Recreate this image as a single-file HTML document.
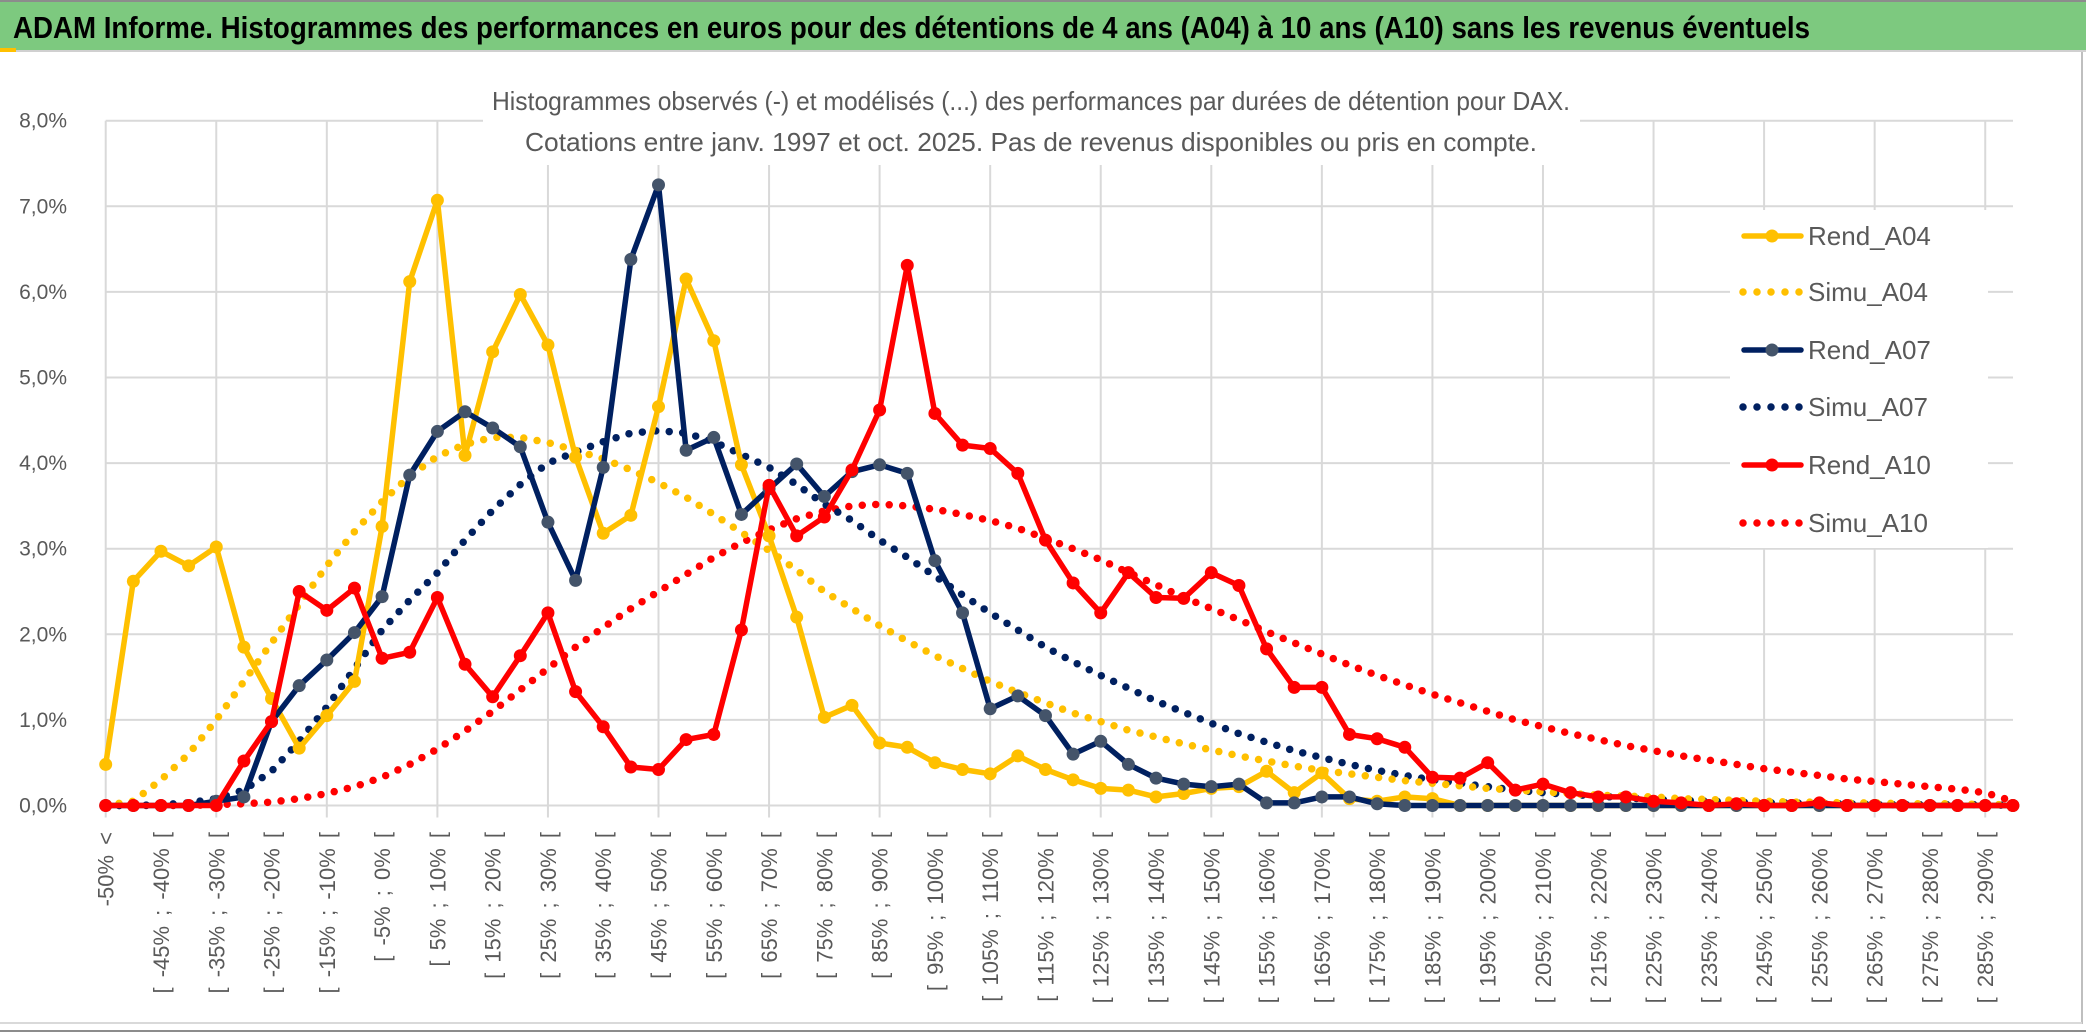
<!DOCTYPE html>
<html><head><meta charset="utf-8">
<style>
html,body{margin:0;padding:0;background:#fff;}
svg{display:block;font-family:"Liberation Sans",sans-serif;}
</style></head>
<body>
<svg id="chart" width="2086" height="1033" viewBox="0 0 2086 1033" xmlns="http://www.w3.org/2000/svg">
  <rect x="0" y="0" width="2086" height="1033" fill="#fff"/>
  <rect x="0" y="2" width="2086" height="48" fill="#7dc97f"/>
  <line x1="0" y1="1" x2="2086" y2="1" stroke="#8c8c8c" stroke-width="2"/>
  <line x1="0" y1="51" x2="2086" y2="51" stroke="#d0d0d0" stroke-width="2"/>
  <rect x="0" y="48" width="16" height="4" fill="#ffc000"/>
  <text x="13" y="38" font-size="31" font-weight="bold" fill="#000" textLength="1797" lengthAdjust="spacingAndGlyphs">ADAM Informe. Histogrammes des performances en euros pour des détentions de 4 ans (A04) à 10 ans (A10) sans les revenus éventuels</text>
  <line x1="2082" y1="52" x2="2082" y2="1024" stroke="#bfbfbf" stroke-width="2"/>
  <line x1="0" y1="1023" x2="2082" y2="1023" stroke="#d9d9d9" stroke-width="2"/>
  <line x1="0" y1="1031" x2="2086" y2="1031" stroke="#8c8c8c" stroke-width="2"/>
  <g id="grid"></g>
  <g id="yaxis"></g>
  <g id="xaxis"></g>
  <rect x="483" y="70" width="1097" height="95" fill="#fff"/>
  <text x="1031" y="110" font-size="26" fill="#595959" text-anchor="middle" textLength="1078" lengthAdjust="spacingAndGlyphs">Histogrammes observés (-) et modélisés (...) des performances par durées de détention pour DAX.</text>
  <text x="1031" y="151" font-size="26" fill="#595959" text-anchor="middle" textLength="1012" lengthAdjust="spacingAndGlyphs">Cotations entre janv. 1997 et oct. 2025. Pas de revenus disponibles ou pris en compte.</text>
  <g id="series"></g>
  <rect x="1730" y="210" width="258" height="338" fill="#fff"/>
  <g id="legend"></g>
</svg>
<script>
const xTickLabels = ["-50% <","[ -45% ; -40% [","[ -35% ; -30% [","[ -25% ; -20% [","[ -15% ; -10% [","[ -5% ; 0% [","[ 5% ; 10% [","[ 15% ; 20% [","[ 25% ; 30% [","[ 35% ; 40% [","[ 45% ; 50% [","[ 55% ; 60% [","[ 65% ; 70% [","[ 75% ; 80% [","[ 85% ; 90% [","[ 95% ; 100% [","[ 105% ; 110% [","[ 115% ; 120% [","[ 125% ; 130% [","[ 135% ; 140% [","[ 145% ; 150% [","[ 155% ; 160% [","[ 165% ; 170% [","[ 175% ; 180% [","[ 185% ; 190% [","[ 195% ; 200% [","[ 205% ; 210% [","[ 215% ; 220% [","[ 225% ; 230% [","[ 235% ; 240% [","[ 245% ; 250% [","[ 255% ; 260% [","[ 265% ; 270% [","[ 275% ; 280% [","[ 285% ; 290% ["];
const yTicks = [0,1,2,3,4,5,6,7,8];
const yTickLabels = ["0,0%","1,0%","2,0%","3,0%","4,0%","5,0%","6,0%","7,0%","8,0%"];
const seriesNames = ["Rend_A04","Simu_A04","Rend_A07","Simu_A07","Rend_A10","Simu_A10"];
const rendA04 = [0.48,2.62,2.97,2.8,3.02,1.85,1.25,0.67,1.05,1.45,3.26,6.12,7.07,4.09,5.3,5.97,5.38,4.07,3.18,3.39,4.66,6.15,5.43,3.98,3.15,2.2,1.03,1.17,0.73,0.68,0.5,0.42,0.37,0.58,0.42,0.3,0.2,0.18,0.1,0.14,0.2,0.22,0.4,0.15,0.38,0.08,0.05,0.1,0.08,0,0,0,0,0,0,0,0,0,0,0,0,0,0,0,0,0,0,0,0,0];
const simuA04 = [0,0.05,0.3,0.6,1.0,1.45,1.9,2.35,2.8,3.2,3.55,3.85,4.08,4.22,4.3,4.3,4.24,4.15,4.05,3.92,3.77,3.6,3.4,3.19,2.98,2.75,2.5,2.3,2.1,1.92,1.75,1.6,1.45,1.32,1.2,1.08,0.98,0.88,0.8,0.72,0.65,0.58,0.52,0.46,0.41,0.37,0.33,0.29,0.26,0.23,0.2,0.18,0.16,0.14,0.12,0.11,0.1,0.08,0.07,0.06,0.05,0.04,0.04,0.03,0.03,0.02,0.02,0.02,0.01,0.01];
const rendA07 = [0,0,0,0,0.05,0.1,0.98,1.4,1.7,2.02,2.44,3.86,4.37,4.6,4.41,4.19,3.31,2.63,3.95,6.38,7.25,4.15,4.3,3.4,3.7,3.99,3.61,3.9,3.98,3.88,2.86,2.25,1.13,1.28,1.05,0.6,0.75,0.48,0.32,0.25,0.22,0.25,0.03,0.03,0.1,0.1,0.02,0,0,0,0,0,0,0,0,0,0,0,0,0,0,0,0,0,0,0,0,0,0,0];
const simuA07 = [0,0,0.01,0.03,0.08,0.18,0.4,0.75,1.15,1.6,2.05,2.4,2.72,3.1,3.45,3.75,4.0,4.13,4.25,4.35,4.38,4.35,4.25,4.1,3.95,3.75,3.52,3.33,3.1,2.9,2.68,2.46,2.25,2.05,1.85,1.68,1.52,1.37,1.22,1.09,0.96,0.84,0.74,0.64,0.56,0.48,0.41,0.35,0.3,0.26,0.22,0.18,0.15,0.13,0.11,0.09,0.07,0.06,0.05,0.04,0.03,0.03,0.02,0.02,0.01,0.01,0.01,0.01,0.01,0];
const rendA10 = [0,0,0,0,0,0.52,0.98,2.5,2.28,2.54,1.72,1.79,2.43,1.65,1.27,1.75,2.25,1.33,0.92,0.45,0.42,0.77,0.83,2.05,3.74,3.15,3.37,3.92,4.62,6.31,4.58,4.21,4.17,3.88,3.1,2.6,2.25,2.72,2.43,2.42,2.72,2.57,1.83,1.38,1.38,0.83,0.78,0.68,0.33,0.32,0.5,0.18,0.25,0.15,0.1,0.1,0.05,0.03,0,0.02,0,0,0.03,0,0,0,0,0,0,0];
const simuA10 = [0,0,0,0,0.01,0.02,0.04,0.08,0.14,0.22,0.33,0.48,0.66,0.87,1.1,1.35,1.6,1.85,2.08,2.3,2.5,2.7,2.9,3.07,3.22,3.35,3.44,3.5,3.52,3.5,3.46,3.4,3.33,3.24,3.12,3.0,2.87,2.72,2.58,2.43,2.3,2.17,2.03,1.9,1.77,1.64,1.52,1.41,1.3,1.2,1.1,1.0,0.92,0.84,0.77,0.7,0.64,0.58,0.53,0.48,0.43,0.39,0.35,0.31,0.28,0.25,0.22,0.19,0.15,0.05];

const NS = "http://www.w3.org/2000/svg";
const X0 = 105.7, STEP = 27.64, Y0 = 805.5, YS = 85.6, XR = 2013;
function xPos(i){ return X0 + i*STEP; }
function yPos(v){ return Y0 - v*YS; }
function mk(tag, attrs, parent){
  const el = document.createElementNS(NS, tag);
  for (const k in attrs) el.setAttribute(k, attrs[k]);
  parent.appendChild(el);
  return el;
}
const grid = document.getElementById('grid');
yTicks.forEach(function(t){
  const l = mk('line', {x1:X0, x2:XR, y1:yPos(t), y2:yPos(t), stroke:'#d9d9d9', 'stroke-width':2}, grid);
  
  
});
for (let i = 0; i < rendA04.length; i += 4) {
  const l = mk('line', {x1:xPos(i), x2:xPos(i), y1:yPos(8), y2:yPos(0)+12, stroke:'#d9d9d9', 'stroke-width':2}, grid);
  
  
}
const yax = document.getElementById('yaxis');
yTicks.forEach(function(t, k){
  const tx = mk('text', {x:67, y:yPos(t)+7, 'font-size':21, fill:'#595959', 'text-anchor':'end'}, yax);
  tx.textContent = yTickLabels[k];
  
  
});
const xax = document.getElementById('xaxis');
xTickLabels.forEach(function(lab, k){
  const x = xPos(k*2) + 8;
  const tx = mk('text', {transform:'translate(' + x + ',832) rotate(-90)', 'font-size':22, 'word-spacing':4, fill:'#595959', 'text-anchor':'end'}, xax);
  tx.textContent = lab;
  
  
});
const ser = document.getElementById('series');
function pathD(arr){ return arr.map(function(v,i){ return (i ? 'L' : 'M') + xPos(i).toFixed(1) + ' ' + yPos(v).toFixed(1); }).join(' '); }
function dotted(arr, color, name){
  const p = mk('path', {d:pathD(arr), fill:'none', stroke:color, 'stroke-width':7.5, 'stroke-linecap':'round', 'stroke-dasharray':'0 13.5'}, ser);
  
  
}
function solid(arr, color, mcolor, name){
  const g = mk('g', {}, ser);
  
  
  const p = mk('path', {d:pathD(arr), fill:'none', stroke:color, 'stroke-width':5.5, 'stroke-linejoin':'round'}, g);
  
  
  arr.forEach(function(v, i){
    const c = mk('circle', {cx:xPos(i), cy:yPos(v), r:6.5, fill:mcolor}, g);
    
    
  });
}
dotted(simuA10, '#ff0000', 'simu-a10-line');
dotted(simuA07, '#002060', 'simu-a07-line');
dotted(simuA04, '#ffc000', 'simu-a04-line');
solid(rendA04, '#ffc000', '#ffc000', 'rend-a04-series');
solid(rendA07, '#002060', '#44546a', 'rend-a07-series');
solid(rendA10, '#ff0000', '#ff0000', 'rend-a10-series');

const leg = document.getElementById('legend');
const legColors = ['#ffc000','#ffc000','#002060','#002060','#ff0000','#ff0000'];
const legMarker = ['#ffc000',null,'#44546a',null,'#ff0000',null];
const legY = [236,292,350,407,465,523];
seriesNames.forEach(function(n, k){
  const g = mk('g', {}, leg);
  
  
  const y = legY[k];
  if (legMarker[k]) {
    mk('line', {x1:1744, x2:1801, y1:y, y2:y, stroke:legColors[k], 'stroke-width':5.5, 'stroke-linecap':'round'}, g);
    mk('circle', {cx:1772, cy:y, r:6.5, fill:legMarker[k]}, g);
  } else {
    mk('line', {x1:1743, x2:1801, y1:y, y2:y, stroke:legColors[k], 'stroke-width':7.5, 'stroke-linecap':'round', 'stroke-dasharray':'0 14'}, g);
  }
  const t = mk('text', {x:1808, y:y+9, 'font-size':26, fill:'#595959'}, g);
  t.textContent = n;
  
  
});
</script>
</body></html>
